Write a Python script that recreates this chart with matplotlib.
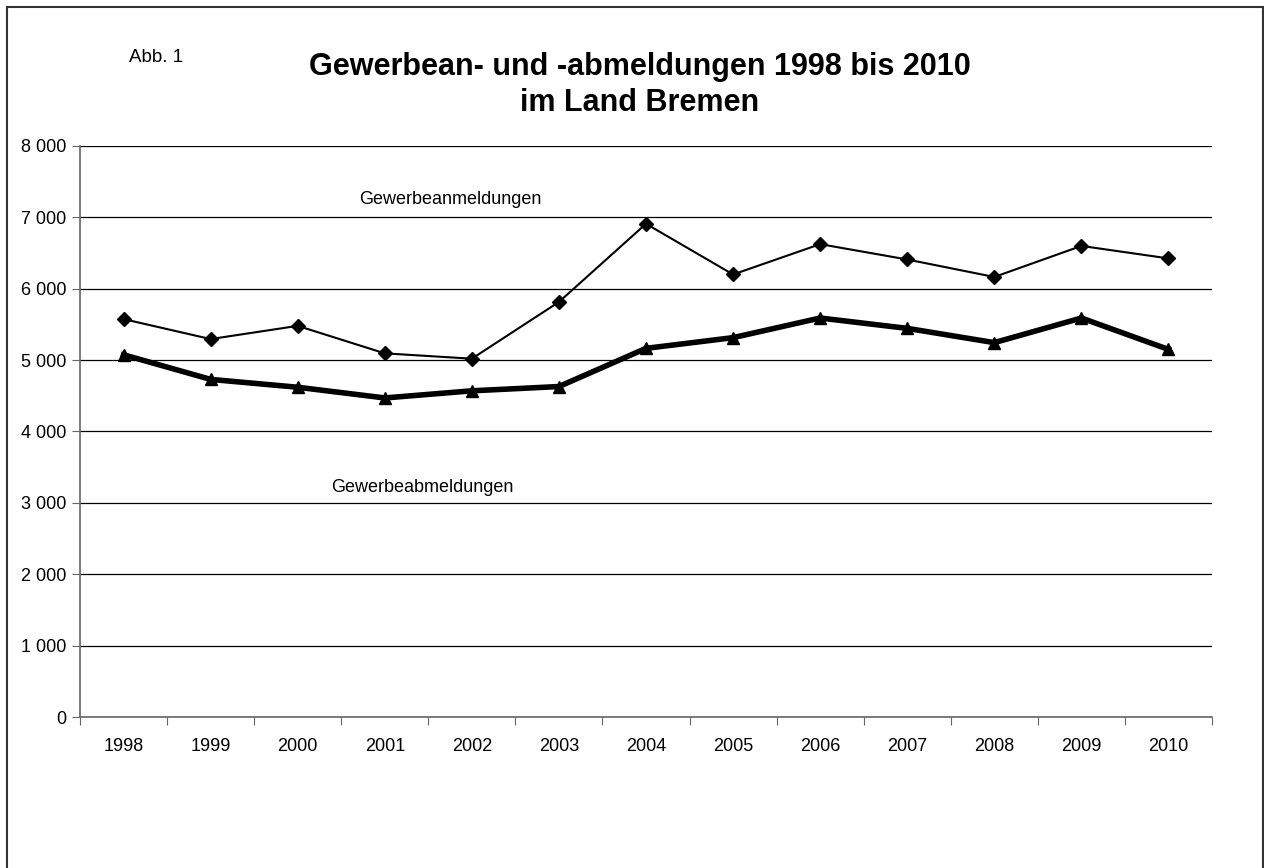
import matplotlib.pyplot as plt
from matplotlib.patches import Rectangle

years = ['1998', '1999', '2000', '2001', '2002', '2003', '2004',
         '2005', '2006', '2007', '2008', '2009', '2010']
anmeldungen = [5575, 5295, 5480, 5095, 5020, 5815, 6910,
               6200, 6625, 6410, 6165, 6600, 6425]
abmeldungen = [5075, 4730, 4620, 4470, 4570, 4630, 5165,
               5315, 5590, 5445, 5245, 5590, 5150]
yticks = [0, 1000, 2000, 3000, 4000, 5000, 6000, 7000, 8000]


def main():
    plt.rcParams['font.family'] = ['Liberation Sans', 'DejaVu Sans']
    fig = plt.figure(figsize=(12.64, 8.68), dpi=100)
    ax = fig.add_axes([80/1264, 1 - 717/868, 1132/1264, 571/868])

    x = list(range(len(years)))
    ax.plot(x, anmeldungen, '-D', color='black', lw=1.5, ms=7, zorder=3)
    ax.plot(x, abmeldungen, '-^', color='black', lw=4, ms=9, zorder=3)

    ax.set_xlim(-0.5, len(years) - 0.5)
    ax.set_ylim(0, 8000)
    ax.set_yticks(yticks)
    ax.set_yticklabels([f'{v:,}'.replace(',', ' ') for v in yticks], fontsize=13)
    ax.yaxis.grid(True, color='black', lw=0.9)
    ax.set_axisbelow(True)

    ax.set_xticks([i - 0.5 for i in range(len(years) + 1)])
    ax.set_xticklabels([])
    ax.set_xticks(x, minor=True)
    ax.set_xticklabels(years, minor=True, fontsize=13)
    ax.tick_params(axis='x', which='major', length=6, color='#666666', direction='out')
    ax.tick_params(axis='x', which='minor', length=0, pad=15)
    ax.tick_params(axis='y', length=6, color='#666666', pad=4)

    for side in ['top', 'right']:
        ax.spines[side].set_visible(False)
    for side in ['left', 'bottom']:
        ax.spines[side].set_color('#666666')
        ax.spines[side].set_linewidth(1.2)

    ax.text(3.75, 7245, 'Gewerbeanmeldungen', fontsize=13, ha='center', va='center')
    ax.text(3.43, 3210, 'Gewerbeabmeldungen', fontsize=13, ha='center', va='center')

    fig.text(156/1264, 1 - 57/868, 'Abb. 1', fontsize=13.5, ha='center', va='center')
    fig.text(640/1264, 1 - 85/868, 'Gewerbean- und -abmeldungen 1998 bis 2010\nim Land Bremen',
             fontsize=22, fontweight='bold', ha='center', va='center', linespacing=1.25)

    fig.patches.append(Rectangle((7/1264, -0.05), 1256/1264, 1.05 - 7/868,
                                 transform=fig.transFigure, fill=False,
                                 edgecolor='#333333', lw=1.5))

    fig.savefig('out.png', dpi=100)


if __name__ == '__main__':
    main()
